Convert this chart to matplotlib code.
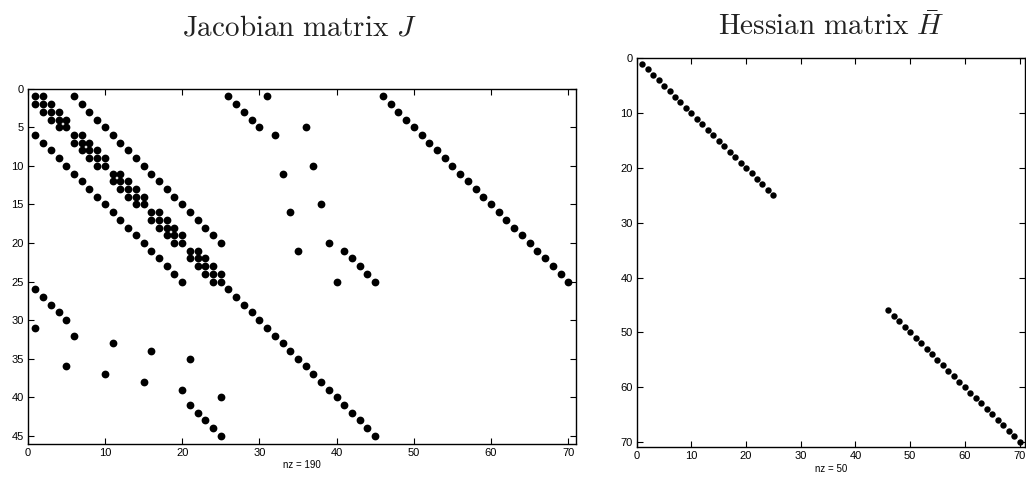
import matplotlib
matplotlib.use("Agg")
import matplotlib.pyplot as plt

plt.rcParams['mathtext.fontset'] = 'cm'
plt.rcParams['font.family'] = ['Liberation Sans', 'DejaVu Sans']

# Jacobian sparsity pattern: for each row (1-based), the nonzero columns (1-based)
J_rows_cols = [
    [1, 2, 6, 26, 31, 46],
    [1, 2, 3, 7, 27, 47],
    [2, 3, 4, 8, 28, 48],
    [3, 4, 5, 9, 29, 49],
    [4, 5, 10, 30, 36, 50],
    [1, 6, 7, 11, 32, 51],
    [2, 6, 7, 8, 12, 52],
    [3, 7, 8, 9, 13, 53],
    [4, 8, 9, 10, 14, 54],
    [5, 9, 10, 15, 37, 55],
    [6, 11, 12, 16, 33, 56],
    [7, 11, 12, 13, 17, 57],
    [8, 12, 13, 14, 18, 58],
    [9, 13, 14, 15, 19, 59],
    [10, 14, 15, 20, 38, 60],
    [11, 16, 17, 21, 34, 61],
    [12, 16, 17, 18, 22, 62],
    [13, 17, 18, 19, 23, 63],
    [14, 18, 19, 20, 24, 64],
    [15, 19, 20, 25, 39, 65],
    [16, 21, 22, 35, 41, 66],
    [17, 21, 22, 23, 42, 67],
    [18, 22, 23, 24, 43, 68],
    [19, 23, 24, 25, 44, 69],
    [20, 24, 25, 40, 45, 70],
    [1, 26],
    [2, 27],
    [3, 28],
    [4, 29],
    [5, 30],
    [1, 31],
    [6, 32],
    [11, 33],
    [16, 34],
    [21, 35],
    [5, 36],
    [10, 37],
    [15, 38],
    [20, 39],
    [25, 40],
    [21, 41],
    [22, 42],
    [23, 43],
    [24, 44],
    [25, 45],
]
J_shape = (45, 70)

# Hessian sparsity pattern: nonzero (row, col) positions, 1-based
H_rows = [1, 2, 3, 4, 5, 6, 7, 8, 9, 10, 11, 12, 13, 14, 15, 16, 17, 18, 19, 20,
          21, 22, 23, 24, 25,
          46, 47, 48, 49, 50, 51, 52, 53, 54, 55, 56, 57, 58, 59, 60, 61, 62, 63,
          64, 65, 66, 67, 68, 69, 70]
H_cols = [1, 2, 3, 4, 5, 6, 7, 8, 9, 10, 11, 12, 13, 14, 15, 16, 17, 18, 19, 20,
          21, 22, 23, 24, 25,
          46, 47, 48, 49, 50, 51, 52, 53, 54, 55, 56, 57, 58, 59, 60, 61, 62, 63,
          64, 65, 66, 67, 68, 69, 70]
H_shape = (70, 70)

J_xticks = [0, 10, 20, 30, 40, 50, 60, 70]
J_yticks = [0, 5, 10, 15, 20, 25, 30, 35, 40, 45]
H_ticks = [0, 10, 20, 30, 40, 50, 60, 70]

J_r, J_c = [], []
for i, cols in enumerate(J_rows_cols):
    for c in cols:
        J_r.append(i + 1)
        J_c.append(c)

W, Hh = 1026, 479
fig = plt.figure(figsize=(W / 100, Hh / 100), dpi=100)

def px_axes(x0, y0, x1, y1):
    return fig.add_axes([x0 / W, 1 - y1 / Hh, (x1 - x0) / W, (y1 - y0) / Hh])

def style(ax, xt, yt, nrow, ncol):
    ax.set_xlim(0, ncol + 1)
    ax.set_ylim(nrow + 1, 0)
    ax.set_xticks(xt)
    ax.set_yticks(yt)
    ax.tick_params(direction='in', length=4, width=0.8, top=True, right=True,
                   labelsize=8, pad=3, colors='black')
    for s in ax.spines.values():
        s.set_linewidth(1.0)

ax1 = px_axes(27.7, 88.7, 576.0, 443.5)
ax1.plot(J_c, J_r, 'o', color='black', markersize=5.6, markeredgewidth=0, linestyle='none')
style(ax1, J_xticks, J_yticks, *J_shape)
ax1.set_xlabel('nz = %d' % len(J_r), fontsize=7, labelpad=2)

ax2 = px_axes(636.7, 58.5, 1025.0, 447.3)
ax2.plot(H_cols, H_rows, 'o', color='black', markersize=4.6, markeredgewidth=0, linestyle='none')
style(ax2, H_ticks, H_ticks, *H_shape)
ax2.set_xlabel('nz = %d' % len(H_rows), fontsize=7, labelpad=2)

fig.text(299 / W, 1 - 35 / Hh, r'$\mathrm{Jacobian\ matrix}\ J$', ha='center', va='baseline',
         fontsize=21, color='#222222')
fig.text(831 / W, 1 - 35 / Hh, r'$\mathrm{Hessian\ matrix}\ \bar{H}$', ha='center', va='baseline',
         fontsize=21, color='#222222')

fig.savefig('out.png', dpi=100)
